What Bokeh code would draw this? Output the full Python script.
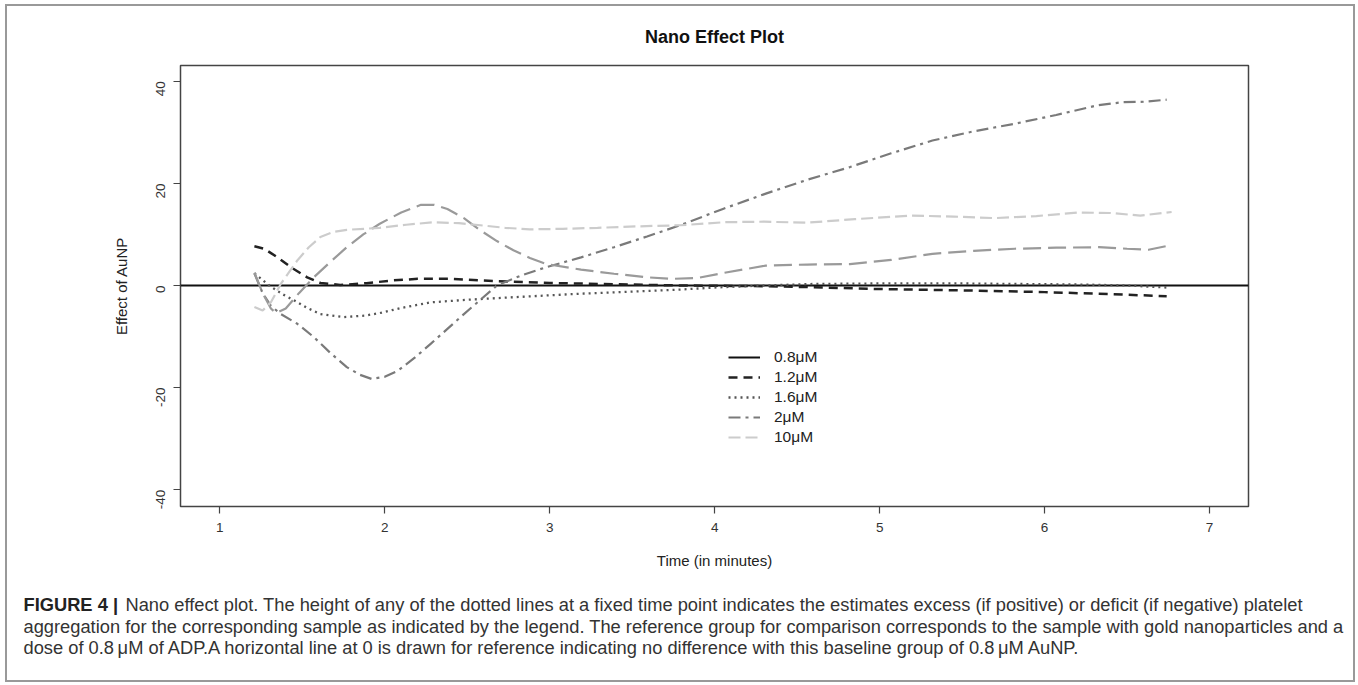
import math
from bokeh.plotting import figure
from bokeh.layouts import column
from bokeh.models import Legend, LegendItem, Range1d, FixedTicker
from bokeh.core.properties import value
from bokeh.embed import file_html
from bokeh.resources import INLINE

# ---- data ----
x_12 = [1.21, 1.27, 1.35, 1.43, 1.53, 1.61, 1.73, 1.89, 2.05, 2.20, 2.40, 2.68, 3.00, 3.30, 3.79, 4.20, 4.56, 5.00, 5.57, 6.00, 6.40, 6.74]
y_12 = [7.7, 7.2, 5.5, 3.6, 1.6, 0.5, 0.1, 0.45, 1.0, 1.3, 1.3, 0.85, 0.5, 0.3, 0.0, -0.1, -0.3, -0.7, -1.0, -1.3, -1.7, -2.1]

x_16 = [1.21, 1.30, 1.38, 1.45, 1.53, 1.61, 1.75, 1.88, 1.97, 2.10, 2.28, 2.50, 2.78, 3.19, 3.50, 3.79, 4.00, 4.30, 4.60, 5.00, 5.50, 5.82, 6.20, 6.50, 6.74]
y_16 = [2.4, 0.0, -1.7, -2.9, -4.4, -5.6, -6.2, -5.9, -5.4, -4.4, -3.3, -2.8, -2.3, -1.6, -1.2, -0.8, -0.4, 0.0, 0.3, 0.4, 0.4, 0.3, 0.2, 0.0, -0.4]

x_2 = [1.21, 1.26, 1.31, 1.37, 1.47, 1.57, 1.67, 1.77, 1.85, 1.92, 2.00, 2.08, 2.18, 2.28, 2.38, 2.48, 2.58, 2.68, 2.83, 2.98, 3.19, 3.39, 3.59, 3.79, 4.05, 4.31, 4.56, 4.82, 5.07, 5.32, 5.57, 5.82, 6.07, 6.32, 6.47, 6.60, 6.74]
y_2 = [2.4, -1.5, -4.0, -5.6, -7.5, -10.1, -13.2, -16.0, -17.5, -18.3, -17.9, -16.7, -14.2, -11.4, -8.5, -5.6, -2.8, 0.0, 2.0, 3.6, 5.5, 7.5, 9.6, 11.8, 15.0, 18.0, 20.7, 23.2, 25.9, 28.4, 30.2, 31.7, 33.4, 35.3, 35.9, 36.0, 36.4]

x_ld = [1.21, 1.26, 1.31, 1.34, 1.40, 1.48, 1.57, 1.67, 1.77, 1.87, 1.97, 2.10, 2.22, 2.30, 2.38, 2.48, 2.58, 2.68, 2.78, 2.88, 2.98, 3.19, 3.39, 3.59, 3.74, 3.90, 4.06, 4.31, 4.56, 4.82, 5.07, 5.32, 5.57, 5.82, 6.07, 6.33, 6.50, 6.63, 6.75]
y_ld = [2.5, -1.5, -4.5, -5.4, -4.5, -1.5, 1.6, 4.6, 7.5, 10.0, 12.1, 14.3, 15.8, 15.8, 15.0, 13.2, 10.8, 8.7, 6.9, 5.4, 4.2, 3.1, 2.3, 1.6, 1.3, 1.5, 2.5, 3.9, 4.1, 4.2, 5.0, 6.2, 6.8, 7.2, 7.4, 7.5, 7.2, 7.0, 7.8]

x_10 = [1.21, 1.26, 1.31, 1.37, 1.42, 1.47, 1.54, 1.61, 1.69, 1.77, 1.97, 2.13, 2.30, 2.45, 2.58, 2.73, 2.88, 3.08, 3.29, 3.55, 3.79, 4.06, 4.30, 4.56, 4.85, 5.19, 5.45, 5.70, 5.95, 6.20, 6.40, 6.58, 6.77]
y_10 = [-4.2, -4.9, -3.3, 0.3, 2.6, 4.9, 7.5, 9.5, 10.5, 10.9, 11.3, 11.9, 12.4, 12.2, 11.8, 11.3, 11.0, 11.1, 11.3, 11.6, 11.8, 12.4, 12.5, 12.3, 13.0, 13.7, 13.5, 13.2, 13.6, 14.3, 14.2, 13.7, 14.4]

baseline_effect = 0  # the 0.8 uM reference group (zero effect)

x_ticks = [1, 2, 3, 4, 5, 6, 7]
y_ticks = [-40, -20, 0, 20, 40]
legend_labels = ["0.8\u03bcM", "1.2\u03bcM", "1.6\u03bcM", "2\u03bcM", "10\u03bcM"]

title_text = "Nano Effect Plot"
x_title = "Time (in minutes)"
y_title = "Effect of AuNP"
caption_bold = "FIGURE 4 |"
caption_lines = [
    "Nano effect plot. The height of any of the dotted lines at a fixed time point indicates the estimates excess (if positive) or deficit (if negative) platelet",
    "aggregation for the corresponding sample as indicated by the legend. The reference group for comparison corresponds to the sample with gold nanoparticles and a",
    "dose of 0.8\u2009\u03bcM of ADP.A horizontal line at 0 is drawn for reference indicating no difference with this baseline group of 0.8\u2009\u03bcM AuNP.",
]

FONT = "Liberation Sans"
CAP_SIZE = "18.3px"
X0, X1 = 0.762, 7.236
Y0, Y1 = -43.3, 43.1

# inner size (inside a 2px grey border placed at x=5..1355, y=4..682)
IW = 1346
TOP_H = 585
CAP_H = 89

p = figure(width=IW, height=TOP_H, output_backend="svg", toolbar_location=None,
           x_range=Range1d(X0, X1), y_range=Range1d(Y0, Y1),
           min_border_left=173, min_border_right=105, min_border_top=59, min_border_bottom=85)
p.frame_align = False
p.background_fill_color = "white"
p.border_fill_color = "white"
p.grid.visible = False
p.outline_line_color = "#444444"
p.outline_line_width = 1.5

p.title.text = title_text
p.title.align = "center"
p.title.text_font = FONT
p.title.text_font_style = "bold"
p.title.text_font_size = "18px"
p.title.text_color = "#111111"
p.title.standoff = 37

for ax in (p.xaxis[0], p.yaxis[0]):
    ax.axis_line_color = None
    ax.minor_tick_line_color = None
    ax.major_tick_line_color = "#444444"
    ax.major_tick_line_width = 1.2
    ax.major_tick_in = 0
    ax.major_tick_out = 7
    ax.major_label_text_font = FONT
    ax.major_label_text_font_size = "13.5px"
    ax.major_label_text_color = "#333333"
    ax.axis_label_text_font = FONT
    ax.axis_label_text_font_style = "normal"
    ax.axis_label_text_font_size = "15px"
    ax.axis_label_text_color = "#222222"

p.xaxis[0].ticker = FixedTicker(ticks=x_ticks)
p.yaxis[0].ticker = FixedTicker(ticks=y_ticks)
p.yaxis[0].major_label_overrides = {t: str(t) for t in y_ticks}
p.yaxis[0].major_label_orientation = math.pi / 2
p.xaxis[0].major_label_standoff = 9
p.yaxis[0].major_label_standoff = 13
p.xaxis[0].axis_label = x_title
p.yaxis[0].axis_label = y_title
p.xaxis[0].axis_label_standoff = 17
p.yaxis[0].axis_label_standoff = 19

r08 = p.line([X0, X1], [baseline_effect, baseline_effect], line_color="#111111", line_width=1.8)
r12 = p.line(x_12, y_12, line_color="#222222", line_width=2.5, line_dash="9 6")
r16 = p.line(x_16, y_16, line_color="#555555", line_width=2.3, line_dash="2 4")
r2 = p.line(x_2, y_2, line_color="#7a7a7a", line_width=2.2, line_dash="12 5 3 5")
rld = p.line(x_ld, y_ld, line_color="#9a9a9a", line_width=2.2, line_dash="18 7")
r10 = p.line(x_10, y_10, line_color="#cccccc", line_width=2.2, line_dash="12 5")

legend = Legend(items=[
    LegendItem(label=legend_labels[0], renderers=[r08]),
    LegendItem(label=legend_labels[1], renderers=[r12]),
    LegendItem(label=legend_labels[2], renderers=[r16]),
    LegendItem(label=legend_labels[3], renderers=[r2]),
    LegendItem(label=legend_labels[4], renderers=[r10]),
], location=(548, 59))
legend.background_fill_alpha = 0
legend.border_line_color = None
legend.padding = 0
legend.margin = 0
legend.spacing = 0
legend.glyph_width = 32
legend.glyph_height = 20
legend.label_height = 20
legend.label_standoff = 14
legend.label_text_font = FONT
legend.label_text_font_size = "15.5px"
legend.label_text_color = "#222222"
p.add_layout(legend, "center")

# ---- caption panel: a frame that fills its whole canvas, pixel coordinates ----
c = figure(width=IW, height=CAP_H, output_backend="svg", toolbar_location=None,
           x_range=Range1d(0, IW), y_range=Range1d(CAP_H, 0),
           min_border=0, min_border_left=0, min_border_right=0, min_border_top=0, min_border_bottom=0)
c.frame_align = False
c.axis.visible = False
c.grid.visible = False
c.outline_line_color = None
c.background_fill_color = "white"
c.border_fill_color = "white"

cap_y = [13, 35, 56]
c.text(x=[16], y=[cap_y[0]], text=[caption_bold], text_font=value(FONT), text_font_style="bold",
       text_font_size=CAP_SIZE, text_baseline="middle", text_color="#222222")
c.text(x=[118], y=[cap_y[0]], text=[caption_lines[0]], text_font=value(FONT),
       text_font_size=CAP_SIZE, text_baseline="middle", text_color="#333333")
c.text(x=[16, 16], y=cap_y[1:], text=caption_lines[1:], text_font=value(FONT),
       text_font_size=CAP_SIZE, text_baseline="middle", text_color="#333333")

layout = column(p, c, spacing=0,
                styles={"border": "2px solid #999999", "margin-left": "5px", "margin-top": "4px"})

open("out.html", "w").write(file_html(layout, INLINE))
